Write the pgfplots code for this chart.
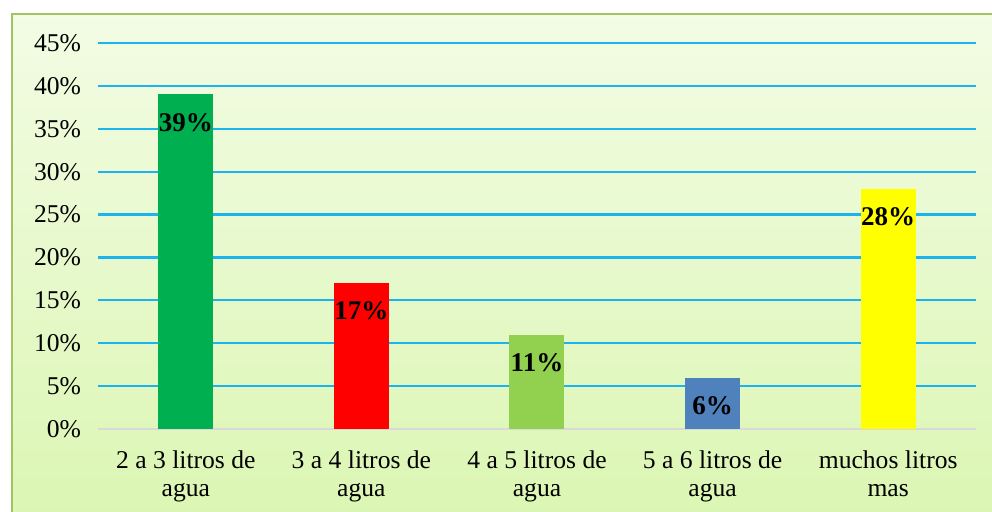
\documentclass[border=0pt]{standalone}
\usepackage{pgfplots}
\pgfplotsset{compat=1.18}
\usepackage{fontspec}
\setmainfont{Liberation Serif}
\definecolor{gridblue}{HTML}{1CB4EC}
\definecolor{framegreen}{HTML}{A3C261}
\definecolor{bgtop}{HTML}{F3FCE4}
\definecolor{bgbottom}{HTML}{DBF6B3}
\definecolor{barA}{HTML}{00B050}
\definecolor{barB}{HTML}{FF0000}
\definecolor{barC}{HTML}{92D050}
\definecolor{barD}{HTML}{4F81BD}
\definecolor{barE}{HTML}{FFFF00}
\begin{document}
\begin{tikzpicture}
\useasboundingbox (-49pt,-41.5pt) rectangle (447pt,214.5pt);
\fill[top color=bgtop, bottom color=bgbottom] (-43pt,-45pt) rectangle (452pt,207.5pt);
\draw[framegreen, line width=1.2pt] (-43pt,-45pt) -- (-43pt,207.5pt) -- (452pt,207.5pt);
\begin{axis}[
  at={(0pt,0pt)}, anchor=south west,
  scale only axis,
  width=439pt, height=193pt,
  xmin=-0.5, xmax=4.5,
  ymin=0, ymax=45,
  axis line style={draw=none},
  major tick length=0pt,
  ytick={5,10,...,45},
  yticklabels={5\%,10\%,15\%,20\%,25\%,30\%,35\%,40\%,45\%},
  extra y ticks={0},
  extra y tick labels={0\%},
  extra y tick style={grid style={color=black!15, line width=1.1pt}},
  ymajorgrids,
  grid style={color=gridblue, line width=1.1pt},
  yticklabel style={font=\fontsize{12.8}{14}\selectfont, xshift=-5pt},
  xtick={0,1,2,3,4},
  xticklabels={{2 a 3 litros de\\agua},{3 a 4 litros de\\agua},{4 a 5 litros de\\agua},{5 a 6 litros de\\agua},{muchos litros\\mas}},
  xticklabel style={font=\fontsize{12.8}{14}\selectfont, align=center, yshift=-7.5pt},
  ybar, bar width=27.5pt, bar shift=0pt,
  nodes near coords,
  every node near coord/.append style={anchor=center, yshift=-14pt, font=\fontsize{13.5}{15}\selectfont\bfseries, text=black},
]
  \addplot[fill=barA, draw=none, nodes near coords={39\%}] coordinates {(0,39)};
  \addplot[fill=barB, draw=none, nodes near coords={17\%}] coordinates {(1,17)};
  \addplot[fill=barC, draw=none, nodes near coords={11\%}] coordinates {(2,11)};
  \addplot[fill=barD, draw=none, nodes near coords={6\%}] coordinates {(3,6)};
  \addplot[fill=barE, draw=none, nodes near coords={28\%}] coordinates {(4,28)};
\end{axis}
\end{tikzpicture}
\end{document}
